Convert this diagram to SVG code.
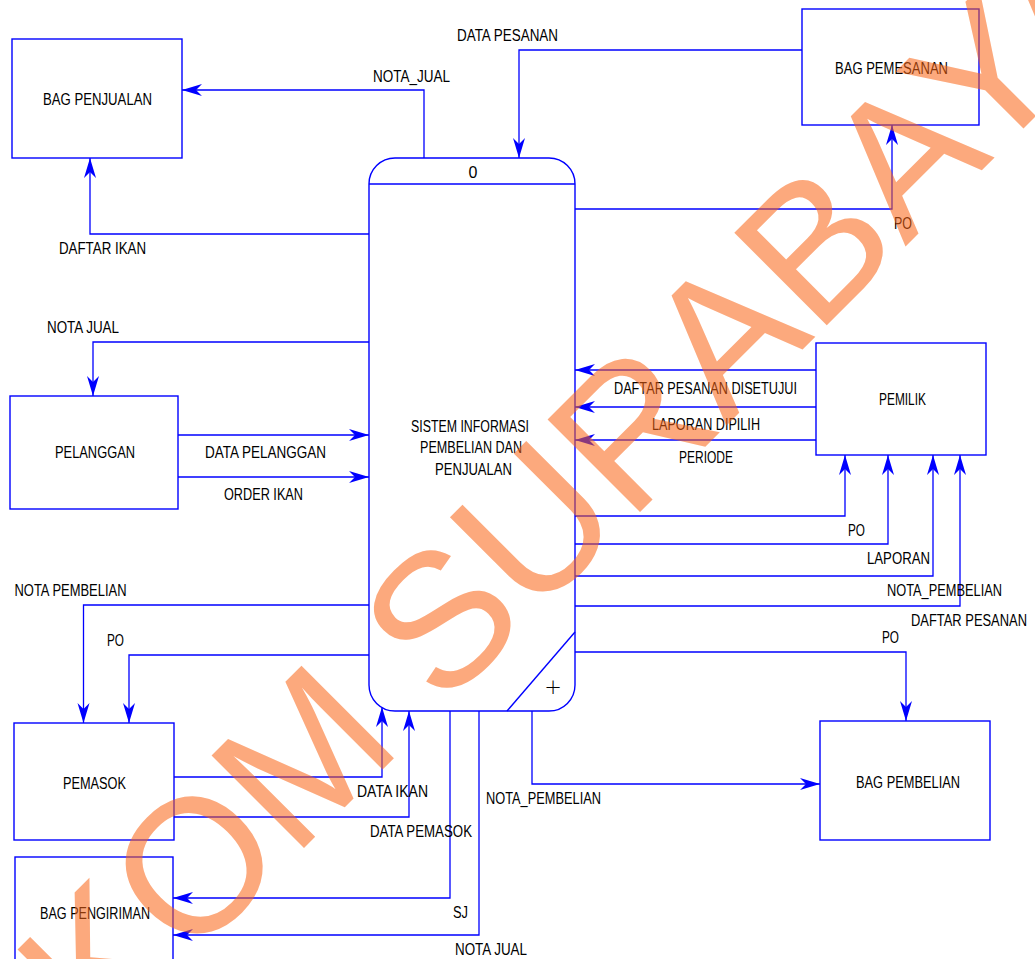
<svg xmlns="http://www.w3.org/2000/svg" width="1035" height="959" viewBox="0 0 1035 959">
<style>
.box{fill:#fff;stroke:#0000ff;stroke-width:1.4}
.ln{fill:none;stroke:#0000ff;stroke-width:1.3;marker-end:url(#ah)}
.t{font-family:"Liberation Sans",Arial,sans-serif;font-size:16px;fill:#000}
.wm{font-family:"Liberation Sans",Arial,sans-serif;font-size:190px;fill:#FA6414;opacity:0.55}
</style>
<defs>
<marker id="ah" markerUnits="userSpaceOnUse" markerWidth="22" markerHeight="14" viewBox="0 0 22 14" refX="21" refY="7" orient="auto">
<path d="M21,7 L1,1 L7,7 L1,13 Z" fill="#0000ff"/>
</marker>
</defs>
<rect width="1035" height="959" fill="#fff"/>

<g id="connectors">
<path class="ln" d="M424,158 V90 H182"/>
<path class="ln" d="M369,234 H90 V158"/>
<path class="ln" d="M802,50 H519 V158"/>
<path class="ln" d="M575,209 H892 V125"/>
<path class="ln" d="M369,342 H93 V396"/>
<path class="ln" d="M178,435 H369"/>
<path class="ln" d="M178,477 H369"/>
<path class="ln" d="M816,370 H575"/>
<path class="ln" d="M816,407 H575"/>
<path class="ln" d="M816,440 H575"/>
<path class="ln" d="M575,516 H845 V455"/>
<path class="ln" d="M575,544 H888 V455"/>
<path class="ln" d="M575,576 H933 V455"/>
<path class="ln" d="M575,606 H960 V455"/>
<path class="ln" d="M575,652 H906 V721"/>
<path class="ln" d="M532,711 V784 H820"/>
<path class="ln" d="M369,605 H83.5 V723"/>
<path class="ln" d="M369,655 H129 V723"/>
<path class="ln" d="M174,777 H382 V707"/>
<path class="ln" d="M174,817 H409 V711"/>
<path class="ln" d="M450,711 V898 H173"/>
<path class="ln" d="M479,711 V935 H173"/>
</g>

<g id="process-0">
<rect class="box" x="369" y="158" width="206" height="553" rx="26" ry="26"/>
<line x1="369" y1="184" x2="575" y2="184" stroke="#0000ff" stroke-width="1.4"/>
<line x1="575" y1="632" x2="507" y2="711" stroke="#0000ff" stroke-width="1.4"/>
<text class="t" x="473" y="178" font-size="15" text-anchor="middle">0</text>
<text x="553" y="694" font-family="'DejaVu Sans',sans-serif" font-size="21" font-weight="200" fill="#000" text-anchor="middle">+</text>
<text class="t" x="411" y="432" textLength="118" lengthAdjust="spacingAndGlyphs">SISTEM INFORMASI</text>
<text class="t" x="420" y="453" textLength="102" lengthAdjust="spacingAndGlyphs">PEMBELIAN DAN</text>
<text class="t" x="435" y="475" textLength="77" lengthAdjust="spacingAndGlyphs">PENJUALAN</text>
</g>

<g id="bag-penjualan">
<rect class="box" x="12" y="39" width="170" height="119"/>
<text class="t" x="43" y="105" textLength="109" lengthAdjust="spacingAndGlyphs">BAG PENJUALAN</text>
</g>
<g id="bag-pemesanan">
<rect class="box" x="802" y="9" width="177" height="116"/>
<text class="t" x="835" y="73.5" textLength="113" lengthAdjust="spacingAndGlyphs">BAG PEMESANAN</text>
</g>
<g id="pelanggan">
<rect class="box" x="10" y="396" width="168" height="113"/>
<text class="t" x="55" y="458" textLength="80" lengthAdjust="spacingAndGlyphs">PELANGGAN</text>
</g>
<g id="pemilik">
<rect class="box" x="816" y="343" width="170" height="112"/>
<text class="t" x="879" y="405" textLength="47" lengthAdjust="spacingAndGlyphs">PEMILIK</text>
</g>
<g id="pemasok">
<rect class="box" x="14" y="723" width="160" height="117"/>
<text class="t" x="63" y="789" textLength="63" lengthAdjust="spacingAndGlyphs">PEMASOK</text>
</g>
<g id="bag-pengiriman">
<rect class="box" x="15" y="857" width="158" height="120"/>
<text class="t" x="40" y="919" textLength="110" lengthAdjust="spacingAndGlyphs">BAG PENGIRIMAN</text>
</g>
<g id="bag-pembelian">
<rect class="box" x="820" y="721" width="170" height="119"/>
<text class="t" x="856" y="787.5" textLength="104" lengthAdjust="spacingAndGlyphs">BAG PEMBELIAN</text>
</g>

<g id="labels">
<text class="t" x="457" y="41" textLength="101" lengthAdjust="spacingAndGlyphs">DATA PESANAN</text>
<text class="t" x="373" y="82" textLength="77" lengthAdjust="spacingAndGlyphs">NOTA_JUAL</text>
<text class="t" x="59" y="254" textLength="87" lengthAdjust="spacingAndGlyphs">DAFTAR IKAN</text>
<text class="t" x="894" y="229" textLength="18" lengthAdjust="spacingAndGlyphs">PO</text>
<text class="t" x="47" y="333" textLength="72" lengthAdjust="spacingAndGlyphs">NOTA JUAL</text>
<text class="t" x="205" y="458" textLength="121" lengthAdjust="spacingAndGlyphs">DATA PELANGGAN</text>
<text class="t" x="224" y="500" textLength="79" lengthAdjust="spacingAndGlyphs">ORDER IKAN</text>
<text class="t" x="614" y="393.5" textLength="183" lengthAdjust="spacingAndGlyphs">DAFTAR PESANAN DISETUJUI</text>
<text class="t" x="652" y="430" textLength="108" lengthAdjust="spacingAndGlyphs">LAPORAN DIPILIH</text>
<text class="t" x="679" y="463" textLength="54" lengthAdjust="spacingAndGlyphs">PERIODE</text>
<text class="t" x="848" y="536" textLength="17" lengthAdjust="spacingAndGlyphs">PO</text>
<text class="t" x="867" y="564" textLength="63" lengthAdjust="spacingAndGlyphs">LAPORAN</text>
<text class="t" x="887" y="596" textLength="115" lengthAdjust="spacingAndGlyphs">NOTA_PEMBELIAN</text>
<text class="t" x="911" y="626" textLength="116" lengthAdjust="spacingAndGlyphs">DAFTAR PESANAN</text>
<text class="t" x="882" y="642.5" textLength="17" lengthAdjust="spacingAndGlyphs">PO</text>
<text class="t" x="14.5" y="596" textLength="112" lengthAdjust="spacingAndGlyphs">NOTA PEMBELIAN</text>
<text class="t" x="107" y="646" textLength="17" lengthAdjust="spacingAndGlyphs">PO</text>
<text class="t" x="357" y="797" textLength="71" lengthAdjust="spacingAndGlyphs">DATA IKAN</text>
<text class="t" x="370" y="837" textLength="102" lengthAdjust="spacingAndGlyphs">DATA PEMASOK</text>
<text class="t" x="486" y="804" textLength="115" lengthAdjust="spacingAndGlyphs">NOTA_PEMBELIAN</text>
<text class="t" x="453" y="918" textLength="15" lengthAdjust="spacingAndGlyphs">SJ</text>
<text class="t" x="455" y="955" textLength="72" lengthAdjust="spacingAndGlyphs">NOTA JUAL</text>
</g>

<g id="watermark">
<text class="wm" transform="translate(-110,1262) rotate(-45)">STIKOM SURABAYA</text>
</g>
</svg>
